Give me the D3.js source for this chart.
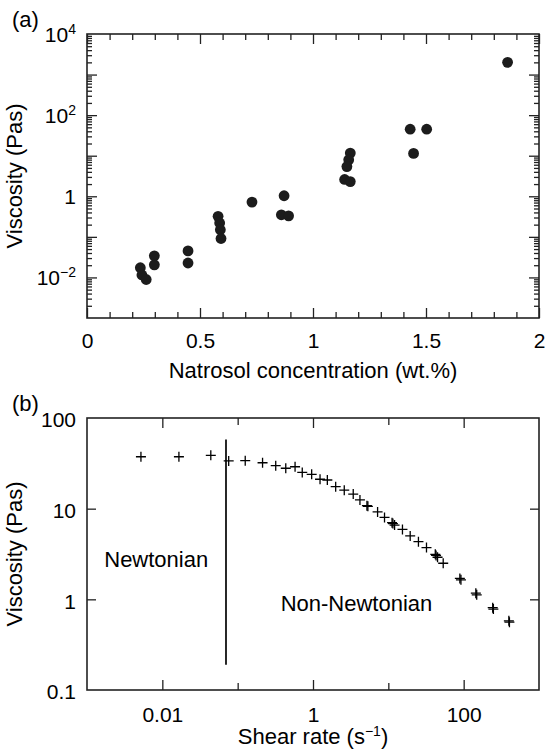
<!DOCTYPE html>
<html>
<head>
<meta charset="utf-8">
<script src="https://cdn.jsdelivr.net/npm/d3@7"></script>
<style>
  body { margin: 0; background: #fff; }
  svg { display: block; font-family: "Liberation Sans", Arial, Helvetica, sans-serif; }
</style>
</head>
<body>
<div id="chart"></div>
<script>
// Panel (a): viscosity vs Natrosol concentration
const concentration = [0.236, 0.243, 0.262, 0.298, 0.298, 0.447, 0.447, 0.58, 0.587, 0.59, 0.593,
    0.73, 0.872, 0.86, 0.892, 1.165, 1.158, 1.15, 1.14, 1.165, 1.445, 1.43, 1.503, 1.861];
const viscosityA = [0.0173, 0.0115, 0.0089, 0.034, 0.0204, 0.045, 0.0227, 0.32, 0.22, 0.15, 0.091,
    0.72, 1.03, 0.35, 0.33, 11.6, 7.9, 5.4, 2.6, 2.3, 11.4, 45, 45, 2000];

// Panel (b): viscosity vs shear rate
const shearRate = [0.0052, 0.0166, 0.044, 0.076, 0.126, 0.214, 0.32, 0.435, 0.578, 0.72, 0.96,
    1.24, 1.55, 2.0, 2.6, 3.42, 4.2, 5.2, 5.35, 7.2, 8.9, 11.2, 11.5, 12.1, 15.4, 19.5, 25.1,
    32.1, 42, 43, 45, 53.5, 89, 92, 145, 149, 243, 248, 398, 405];
const viscosityB = [37.4, 37.4, 38.8, 33.6, 33.8, 32.1, 29.8, 27.9, 29.0, 25.1, 23.9,
    21.1, 20.7, 17.5, 16.0, 14.5, 12.5, 10.8, 10.6, 9.2, 8.0, 7.0, 6.85, 6.6, 5.9, 5.0, 4.33,
    3.72, 3.14, 3.05, 2.91, 2.5, 1.70, 1.64, 1.17, 1.12, 0.81, 0.78, 0.58, 0.56];

// Newtonian / non-Newtonian boundary
const boundaryRate = 0.07;
const boundaryRange = [0.19, 58];

// Tick labels
const xTicksA = [0, 0.5, 1, 1.5, 2];
const yTicksA = [1e4, 1e2, 1, 1e-2];
const xTicksB = [0.01, 1, 100];
const yTicksB = [0.1, 1, 10, 100];

const width = 545, height = 750;
const left = 87, right = 539;
const fontTick = 21, fontTitle = 22;

const svg = d3.select("#chart").append("svg")
    .attr("width", width)
    .attr("height", height);

function styleAxis(g) {
    g.select(".domain").remove();
    g.selectAll("line").attr("stroke", "#222").attr("stroke-width", 1.3);
    g.selectAll("text").attr("fill", "#000").attr("font-size", fontTick)
        .attr("font-family", "Liberation Sans, Arial, sans-serif");
}

function powerLabel(text, v) {
    text.text(null);
    if (v === 1) { text.text("1"); return; }
    const e = Math.round(Math.log10(v));
    text.append("tspan").text("10");
    text.append("tspan").attr("dy", -8).attr("font-size", 14)
        .text(e < 0 ? "\u2212" + (-e) : String(e));
}

// ---------- Panel (a) ----------
const topA = 34, bottomA = 318;
const xA = d3.scaleLinear().domain([0, 2]).range([left, right]);
const yA = d3.scaleLog().domain([1e-3, 1e4]).range([bottomA, topA]);

const minorX = d3.range(0, 21).map(i => i / 10).filter(v => !xTicksA.includes(v));
const decadesA = d3.range(-2, 4).map(e => Math.pow(10, e));
const minorY = [];
d3.range(-3, 4).forEach(e => { for (let m = 2; m <= 9; m++) minorY.push(m * Math.pow(10, e)); });

const gA = svg.append("g");

gA.append("g").attr("transform", `translate(0,${bottomA})`)
    .call(d3.axisBottom(xA).tickValues(minorX).tickSize(-6).tickFormat("")).call(styleAxis);
gA.append("g").attr("transform", `translate(0,${bottomA})`)
    .call(d3.axisBottom(xA).tickValues(xTicksA).tickSize(-10).tickPadding(15.5)
        .tickFormat(d3.format("~g"))).call(styleAxis);
gA.append("g").attr("transform", `translate(0,${topA})`)
    .call(d3.axisTop(xA).tickValues(minorX).tickSize(-6).tickFormat("")).call(styleAxis);
gA.append("g").attr("transform", `translate(0,${topA})`)
    .call(d3.axisTop(xA).tickValues(xTicksA).tickSize(-10).tickFormat("")).call(styleAxis);

gA.append("g").attr("transform", `translate(${left},0)`)
    .call(d3.axisLeft(yA).tickValues(minorY).tickSize(-5).tickFormat("")).call(styleAxis);
gA.append("g").attr("transform", `translate(${left},0)`)
    .call(d3.axisLeft(yA).tickValues(decadesA).tickSize(-10).tickFormat("")).call(styleAxis);
gA.append("g").attr("transform", `translate(${right},0)`)
    .call(d3.axisRight(yA).tickValues(minorY).tickSize(-5).tickFormat("")).call(styleAxis);
gA.append("g").attr("transform", `translate(${right},0)`)
    .call(d3.axisRight(yA).tickValues(decadesA).tickSize(-10).tickFormat("")).call(styleAxis);

const yLabA = gA.append("g").attr("transform", `translate(${left},0)`)
    .call(d3.axisLeft(yA).tickValues(yTicksA).tickSize(0).tickPadding(11)).call(styleAxis);
yLabA.selectAll(".tick text").attr("dy", "0.36em").each(function (d) { powerLabel(d3.select(this), d); });

gA.append("rect")
    .attr("x", left).attr("y", topA)
    .attr("width", right - left).attr("height", bottomA - topA)
    .attr("fill", "none").attr("stroke", "#222").attr("stroke-width", 1.6);

gA.selectAll(".dot")
    .data(concentration.map((c, i) => ({ c, v: viscosityA[i] })))
    .enter()
    .append("circle")
    .attr("class", "dot")
    .attr("cx", d => xA(d.c))
    .attr("cy", d => yA(d.v))
    .attr("r", 5.4)
    .attr("fill", "#1c1c1c");

gA.append("text")
    .attr("x", (left + right) / 2).attr("y", 378)
    .attr("text-anchor", "middle").attr("font-size", fontTitle)
    .text("Natrosol concentration (wt.%)");

gA.append("text")
    .attr("transform", `translate(22,${(topA + bottomA) / 2}) rotate(-90)`)
    .attr("text-anchor", "middle").attr("font-size", fontTitle)
    .text("Viscosity (Pas)");

gA.append("text").attr("x", 12).attr("y", 27).attr("font-size", fontTitle).text("(a)");

// ---------- Panel (b) ----------
const topB = 418, bottomB = 690;
const xB = d3.scaleLog().domain([1e-3, 1e3]).range([left, right]);
const yB = d3.scaleLog().domain([0.1, 100]).range([bottomB, topB]);

const decadesX = [0.01, 0.1, 1, 10, 100];
const minorXB = decadesX.filter(v => !xTicksB.includes(v));
const innerY = [1, 10];

const gB = svg.append("g");

gB.append("g").attr("transform", `translate(0,${bottomB})`)
    .call(d3.axisBottom(xB).tickValues(minorXB).tickSize(-7).tickFormat("")).call(styleAxis);
gB.append("g").attr("transform", `translate(0,${bottomB})`)
    .call(d3.axisBottom(xB).tickValues(xTicksB).tickSize(-10).tickPadding(17)
        .tickFormat(d3.format("~g"))).call(styleAxis);
gB.append("g").attr("transform", `translate(0,${topB})`)
    .call(d3.axisTop(xB).tickValues(minorXB).tickSize(-7).tickFormat("")).call(styleAxis);
gB.append("g").attr("transform", `translate(0,${topB})`)
    .call(d3.axisTop(xB).tickValues(xTicksB).tickSize(-10).tickFormat("")).call(styleAxis);

gB.append("g").attr("transform", `translate(${left},0)`)
    .call(d3.axisLeft(yB).tickValues(innerY).tickSize(-9).tickFormat("")).call(styleAxis);
gB.append("g").attr("transform", `translate(${right},0)`)
    .call(d3.axisRight(yB).tickValues(innerY).tickSize(-9).tickFormat("")).call(styleAxis);
const yLabB = gB.append("g").attr("transform", `translate(${left},0)`)
    .call(d3.axisLeft(yB).tickValues(yTicksB).tickSize(0).tickPadding(11)
        .tickFormat(d3.format("~g"))).call(styleAxis);
yLabB.selectAll(".tick text").attr("dy", "0.42em");

gB.append("rect")
    .attr("x", left).attr("y", topB)
    .attr("width", right - left).attr("height", bottomB - topB)
    .attr("fill", "none").attr("stroke", "#222").attr("stroke-width", 1.6);

gB.append("line")
    .attr("x1", xB(boundaryRate)).attr("x2", xB(boundaryRate))
    .attr("y1", yB(boundaryRange[1])).attr("y2", yB(boundaryRange[0]))
    .attr("stroke", "#111").attr("stroke-width", 1.8);

gB.selectAll(".cross")
    .data(shearRate.map((s, i) => ({ s, v: viscosityB[i] })))
    .enter()
    .append("path")
    .attr("class", "cross")
    .attr("transform", d => `translate(${xB(d.s)},${yB(d.v)})`)
    .attr("d", "M-5,0H5M0,-5V5")
    .attr("stroke", "#000").attr("stroke-width", 1.3).attr("fill", "none");

gB.append("text")
    .attr("x", xB(0.0083)).attr("y", yB(2.29))
    .attr("text-anchor", "middle").attr("font-size", fontTitle)
    .text("Newtonian");
gB.append("text")
    .attr("x", xB(3.78)).attr("y", yB(0.75))
    .attr("text-anchor", "middle").attr("font-size", fontTitle)
    .text("Non-Newtonian");

const xTitleB = gB.append("text")
    .attr("x", (left + right) / 2).attr("y", 744)
    .attr("text-anchor", "middle").attr("font-size", fontTitle);
xTitleB.append("tspan").text("Shear rate (s");
xTitleB.append("tspan").attr("dy", -8).attr("font-size", 14).text("\u22121");
xTitleB.append("tspan").attr("dy", 8).text(")");

gB.append("text")
    .attr("transform", `translate(22,${(topB + bottomB) / 2}) rotate(-90)`)
    .attr("text-anchor", "middle").attr("font-size", fontTitle)
    .text("Viscosity (Pas)");

gB.append("text").attr("x", 12).attr("y", 411).attr("font-size", fontTitle).text("(b)");
</script>
</body>
</html>
